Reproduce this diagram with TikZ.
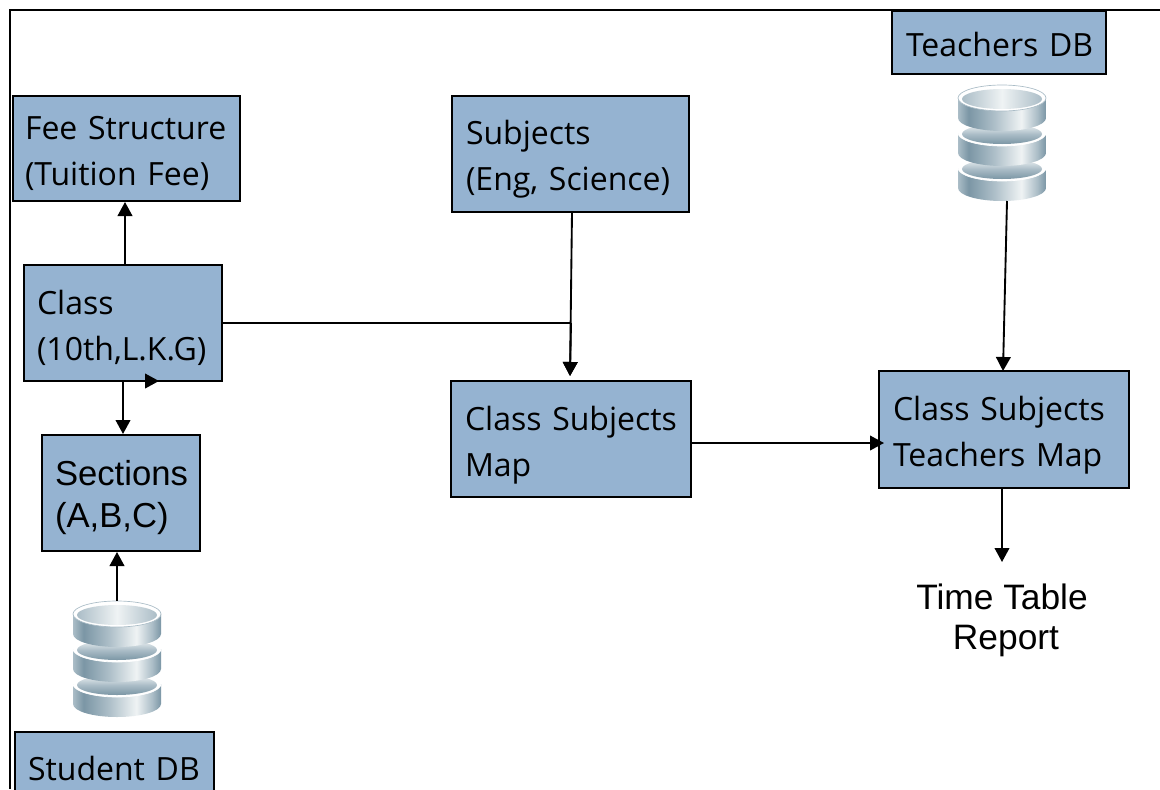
\documentclass[tikz,border=0pt]{standalone}
\usepackage{fontspec}
\setmainfont{Open Sans}
\newfontfamily\arialf{Liberation Sans}
\usetikzlibrary{arrows.meta}
\definecolor{boxblue}{HTML}{95B3D1}
\definecolor{dbdark}{HTML}{7B96A5}
\definecolor{dbmid}{HTML}{ABBDC7}
\definecolor{dblight}{HTML}{EFF3F4}
\pgfdeclarehorizontalshading{dbbody}{100bp}{color(0bp)=(dbmid); color(25bp)=(dbmid); color(31bp)=(dbdark); color(45bp)=(dbmid); color(61bp)=(dblight); color(70bp)=(dbmid); color(75bp)=(dbdark); color(100bp)=(dbdark)}
\pgfdeclareverticalshading{dbwell}{100bp}{color(0bp)=(dbdark); color(25bp)=(dbdark); color(50bp)=(dbmid); color(75bp)=(dblight); color(100bp)=(dblight)}
\pgfdeclarehorizontalshading{dbtopwell}{100bp}{color(0bp)=(dbmid); color(25bp)=(dbmid); color(50bp)=(dblight); color(75bp)=(dbmid); color(100bp)=(dbmid)}
\newcommand{\tline}[2][10.5pt]{\raisebox{-#1}[0pt][0pt]{#2}}
\tikzset{
  x=0.75pt,y=-0.75pt,
  fbox/.style={draw=black,line width=1.5pt,fill=boxblue,rectangle,align=left,inner ysep=0pt,font=\fontsize{24}{34.5}\selectfont},
  conn/.style={line width=1.4pt,draw=black},
  arr/.style={conn,-{Triangle[width=11pt,length=10.5pt]}},
  dbarea/.style={rectangle,inner sep=0pt,minimum width=66pt,minimum height=87pt},
  pics/disc/.style n args={2}{code={
    \shade[shading=dbbody] (-44,0) -- (-44,20) arc[start angle=180,end angle=0,x radius=44,y radius=13] -- (44,0) -- cycle;
    \fill[white] (0,0) ellipse[x radius=44,y radius=13];
    \shade[shading=#1] (0,1) ellipse[x radius=40,y radius=10];
    \draw[#2,line width=0.5pt] (0,0) ellipse[x radius=44,y radius=13];
  }}
}
\newcommand{\dbstack}[2]{%
  \pic at (#1,#2+70) {disc={dbwell}{white}};
  \pic at (#1,#2+35) {disc={dbwell}{white}};
  \pic at (#1,#2) {disc={dbtopwell}{dbmid}};
}
\begin{document}
\begin{tikzpicture}
\useasboundingbox (0,0) rectangle (1160,789);
\fill[white] (0,0) rectangle (1160,789);
\coordinate (frameTR) at (1160,10);
\coordinate (frameTL) at (10,10);
\coordinate (frameBL) at (10,789);
\draw[line width=1.7pt] (frameBL) -- (frameTL) -- (frameTR);

\node[fbox,anchor=north west,text width=203*0.75pt,inner xsep=9pt,minimum height=105*0.75pt] (fee) at (12,95) {\tline{Fee Structure}\\\tline{(Tuition Fee)}};
\node[fbox,anchor=north west,text width=209*0.75pt,inner xsep=10.5pt,minimum height=116*0.75pt] (subjects) at (451,95) {\tline[9.75pt]{Subjects}\\\tline[9.75pt]{(Eng, Science)}};
\node[fbox,anchor=north west,text width=186*0.75pt,inner xsep=10.5pt,minimum height=63*0.75pt] (teachers) at (891,10) {\tline{Teachers DB}};
\node[fbox,anchor=north west,text width=172*0.75pt,inner xsep=9.75pt,minimum height=116*0.75pt] (class) at (23,264) {\tline{Class}\\\tline{(10th,L.K.G)}};
\node[fbox,anchor=north west,text width=132*0.75pt,inner xsep=9.75pt,minimum height=116*0.75pt,font=\arialf\fontsize{26}{31.5}\selectfont] (sections) at (41,434) {\tline[9.75pt]{Sections}\\\tline[9.75pt]{(A,B,C)}};
\node[fbox,anchor=north west,text width=212*0.75pt,inner xsep=10.5pt,minimum height=116*0.75pt] (csmap) at (450,380) {\tline[11pt]{Class Subjects}\\\tline[11pt]{Map}};
\node[fbox,anchor=north west,text width=222*0.75pt,inner xsep=10.5pt,minimum height=117*0.75pt] (cstm) at (878,370) {\tline{Class Subjects}\\\tline{Teachers Map}};
\node[fbox,anchor=north west,text width=173*0.75pt,inner xsep=9.75pt,minimum height=70*0.75pt] (student) at (14,731) {\tline[9.75pt]{Student DB}};

\node[dbarea] (sdb) at (117,659) {};
\dbstack{117}{614}
\node[dbarea] (tdb) at (1002,143) {};
\dbstack{1002}{98}

\node[align=center,inner sep=0pt,font=\arialf\fontsize{26.5}{30}\selectfont] (report) at (1002,620) {Time Table\\\hspace*{6pt}Report};

\coordinate (junction) at (571,323);
\coordinate (csin) at (570,376);
\coordinate (subout) at (572,212);
\coordinate (tdbout) at (1007,201);
\coordinate (cstmin) at (1003,371);
\coordinate (cstmout) at (1002,488);
\coordinate (reportin) at (1002,562);
\coordinate (csout) at (691,443);
\coordinate (cstmleft) at (884,443);
\coordinate (strayA) at (145,381);
\coordinate (strayB) at (159,381);

\draw[arr] ([xshift=1.5pt]class.north) -- ([xshift=1.5pt]class.north |- fee.south);
\draw[arr] (class.south) -- (class.south |- sections.north);
\draw[arr] (sdb.north) -- (sdb.north |- sections.south);
\draw[conn] (class.east) -- (junction);
\draw[arr] (subout) -- (csin);
\draw[arr] (junction) -- (csin);
\draw[arr] (tdbout) -- (cstmin);
\draw[arr] (csout) -- (cstmleft);
\draw[arr] (cstmout) -- (reportin);
\draw[arr,shorten <=-1pt] (strayA) -- (strayB);
\end{tikzpicture}
\end{document}
